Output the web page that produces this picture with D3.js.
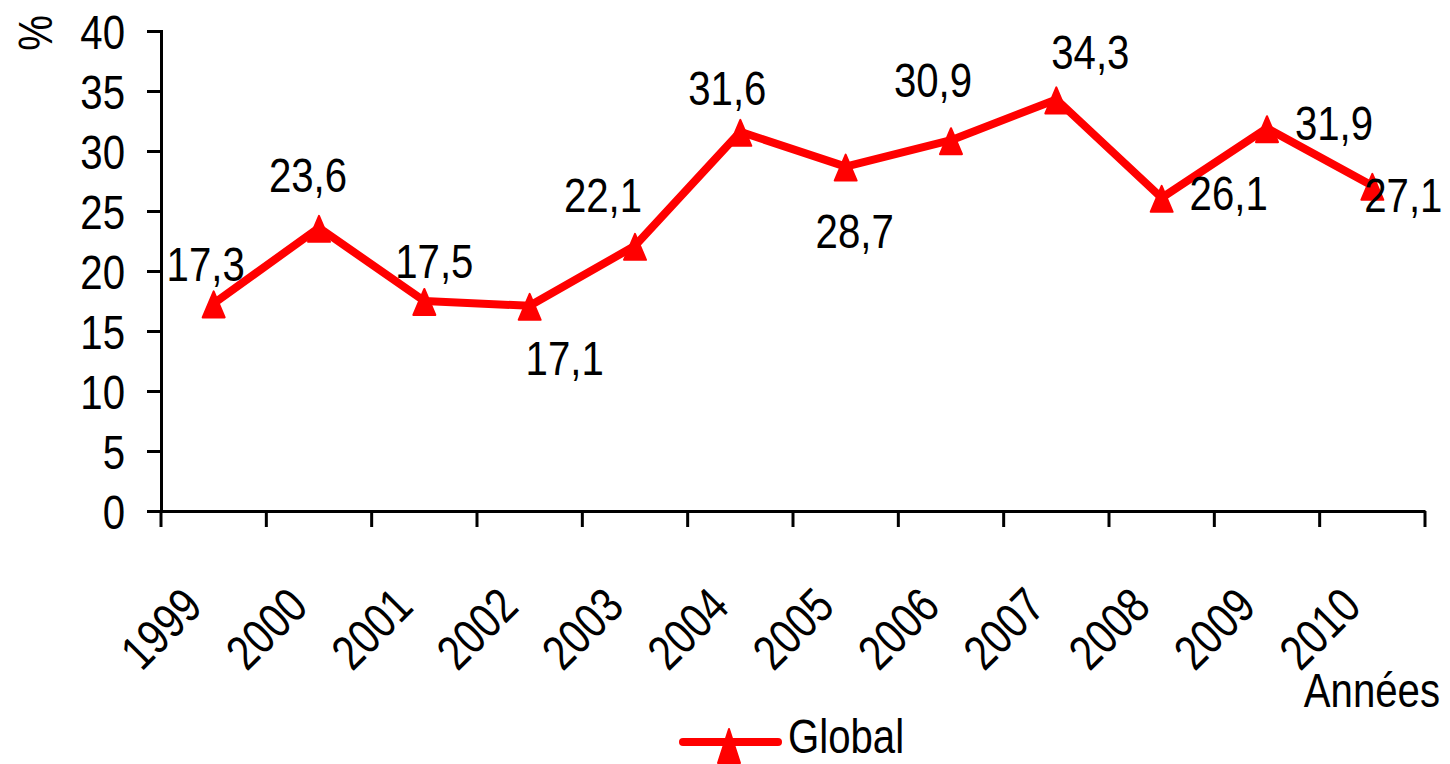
<!DOCTYPE html>
<html>
<head>
<meta charset="utf-8">
<script src="https://cdn.jsdelivr.net/npm/d3@7"></script>
<style>
  body { margin: 0; background: #fff; }
  text { font-family: "Liberation Sans Narrow", "Arial Narrow", "Liberation Sans", Arial, sans-serif; fill: #000; }
</style>
</head>
<body>
<svg id="chart" width="1450" height="764"></svg>
<script>
// data
var years = ["1999","2000","2001","2002","2003","2004","2005","2006","2007","2008","2009","2010"];
var globalValues = [17.3, 23.6, 17.5, 17.1, 22.1, 31.6, 28.7, 30.9, 34.3, 26.1, 31.9, 27.1];
var yTicks = [0, 5, 10, 15, 20, 25, 30, 35, 40];
var seriesName = "Global";

// where each value label sits relative to its point (layout only)
var labelOffsets = [
  [-8, -22], [-11, -36], [10, -23], [35, 69], [-32, -34],
  [-13, -27], [9, 81], [-18, -43], [34, -30], [67, 12], [67, 12], [31, 26]
];

var SX = 0.82;   // narrow the fallback font to look like Arial Narrow
var FS = "49px";

var svg = d3.select("#chart"),
    margin = { left: 161, right: 25, top: 31, bottom: 253 },
    width = 1450 - margin.left - margin.right,
    height = 764 - margin.top - margin.bottom;

var g = svg.append("g").attr("transform", "translate(" + margin.left + "," + margin.top + ")");

var x = d3.scaleBand().domain(years).range([0, width]);
var y = d3.scaleLinear().domain([0, 40]).range([height, 0]);

// y axis
var yAxis = g.append("g")
  .call(d3.axisLeft(y).tickValues(yTicks).tickSize(14).tickPadding(22));
yAxis.selectAll("text")
  .style("font-size", FS)
  .attr("dy", null)
  .each(function () {
    var t = d3.select(this);
    var tx = +t.attr("x");
    t.attr("x", 0).attr("y", 17).attr("transform", "translate(" + tx + ",0) scale(" + SX + ",1)");
  });

// x axis with ticks on the band edges
var xAxis = g.append("g").attr("transform", "translate(0," + height + ")")
  .call(d3.axisBottom(x).tickSize(0).tickFormat(""));
var edges = years.map(function (d) { return x(d); }).concat([width]);
xAxis.selectAll(".edge").data(edges).enter().append("line")
  .attr("x1", function (d) { return d; }).attr("x2", function (d) { return d; })
  .attr("y1", 0).attr("y2", 16)
  .attr("stroke", "#000").attr("stroke-width", 3);

g.selectAll("path.domain, .tick line").attr("stroke", "#000").attr("stroke-width", 3);

xAxis.selectAll(".ylab").data(years).enter().append("text")
  .attr("transform", function (d) { return "translate(" + (x(d) + x.bandwidth() / 2 - 9) + ",98) rotate(-45) scale(" + SX + ",1)"; })
  .attr("text-anchor", "end")
  .style("font-size", FS)
  .text(function (d) { return d; });

// axis titles
svg.append("text")
  .attr("transform", "translate(52,33) rotate(-90) scale(" + SX + ",1)")
  .attr("text-anchor", "middle")
  .style("font-size", FS)
  .text("%");

svg.append("text")
  .attr("transform", "translate(1440,707) scale(" + SX + ",1)")
  .attr("text-anchor", "end")
  .style("font-size", FS)
  .text("Années");

// line
var line = d3.line()
  .x(function (d, i) { return x(years[i]) + x.bandwidth() / 2; })
  .y(function (d) { return y(d); });

g.append("path")
  .datum(globalValues)
  .attr("d", line)
  .attr("fill", "none")
  .attr("stroke", "#ff0000")
  .attr("stroke-width", 8)
  .attr("stroke-linejoin", "round");

var tri = "M0,-12 L11,14 L-11,14 Z";

g.selectAll(".marker").data(globalValues).enter().append("path")
  .attr("d", tri)
  .attr("transform", function (d, i) { return "translate(" + (x(years[i]) + x.bandwidth() / 2) + "," + y(d) + ")"; })
  .attr("fill", "#ff0000")
  .attr("stroke", "#ff0000")
  .attr("stroke-width", 2)
  .attr("stroke-linejoin", "round");

g.selectAll(".vlab").data(globalValues).enter().append("text")
  .attr("transform", function (d, i) {
    var px = x(years[i]) + x.bandwidth() / 2 + labelOffsets[i][0];
    var py = y(d) + labelOffsets[i][1];
    return "translate(" + px + "," + py + ") scale(" + SX + ",1)";
  })
  .attr("text-anchor", "middle")
  .style("font-size", FS)
  .text(function (d) { return String(d).replace(".", ","); });

// legend
var leg = svg.append("g").attr("transform", "translate(683,742)");
leg.append("line").attr("x1", 0).attr("x2", 95).attr("y1", 0).attr("y2", 0)
  .attr("stroke", "#ff0000").attr("stroke-width", 8).attr("stroke-linecap", "round");
leg.append("path").attr("d", "M0,-13 L11,21 L-11,21 Z").attr("transform", "translate(46,0)")
  .attr("fill", "#ff0000").attr("stroke", "#ff0000").attr("stroke-width", 2).attr("stroke-linejoin", "round");
leg.append("text").attr("transform", "translate(105,11) scale(" + SX + ",1)")
  .style("font-size", FS)
  .text(seriesName);
</script>
</body>
</html>
